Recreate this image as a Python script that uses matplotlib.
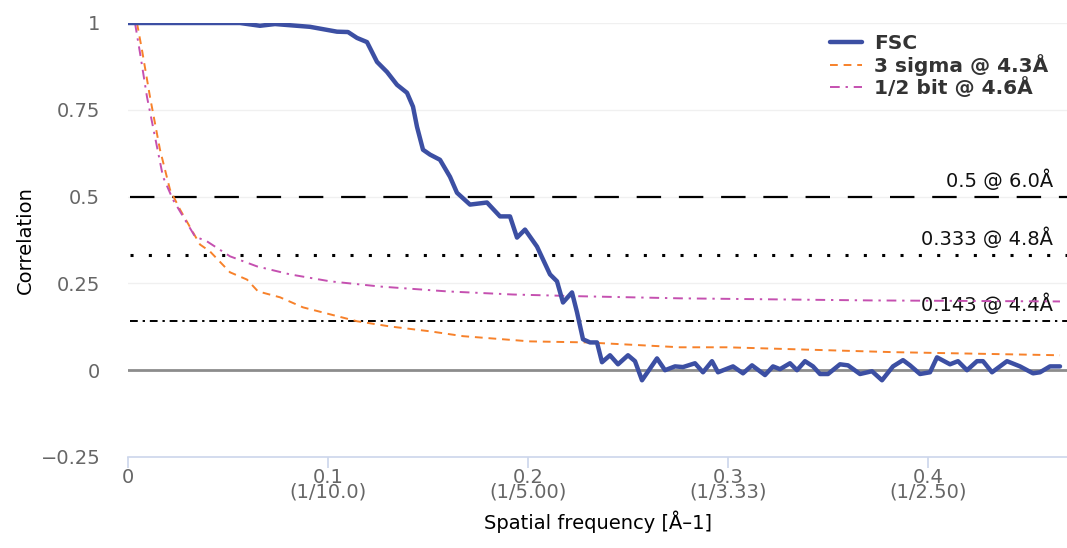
import matplotlib
matplotlib.use('Agg')
import matplotlib.pyplot as plt

# FSC curve (spatial frequency, correlation)
fsc_x = [0.000, 0.056, 0.066, 0.0735, 0.091, 0.1045, 0.110, 0.1145, 0.1195, 0.1245,
         0.1295, 0.1345, 0.1395, 0.1425, 0.1445, 0.1475, 0.151, 0.156, 0.161, 0.1645,
         0.171, 0.1795, 0.186, 0.191, 0.1945, 0.1985, 0.2045, 0.211, 0.2145, 0.2175,
         0.222, 0.2245, 0.2275, 0.231, 0.2345, 0.237, 0.241, 0.245, 0.250, 0.2535,
         0.257, 0.2645, 0.2685, 0.2735, 0.2775, 0.2835, 0.2875, 0.292, 0.295, 0.3025,
         0.3075, 0.312, 0.3185, 0.3225, 0.326, 0.331, 0.3345, 0.3385, 0.3425, 0.346,
         0.350, 0.356, 0.360, 0.366, 0.372, 0.377, 0.3825, 0.3875, 0.391, 0.396,
         0.401, 0.4045, 0.411, 0.415, 0.4195, 0.4245, 0.4275, 0.432, 0.4395, 0.446,
         0.4525, 0.456, 0.461, 0.466]
fsc_y = [1.000, 1.000, 0.992, 0.997, 0.989, 0.975, 0.974, 0.957, 0.945, 0.888,
         0.859, 0.822, 0.799, 0.759, 0.701, 0.635, 0.621, 0.606, 0.557, 0.511,
         0.477, 0.483, 0.443, 0.443, 0.382, 0.405, 0.356, 0.276, 0.256, 0.195,
         0.224, 0.167, 0.089, 0.080, 0.080, 0.023, 0.043, 0.017, 0.043, 0.026,
         -0.029, 0.034, 0.000, 0.011, 0.009, 0.020, -0.006, 0.026, -0.006, 0.011,
         -0.009, 0.014, -0.014, 0.011, 0.003, 0.020, 0.000, 0.026, 0.011, -0.011,
         -0.011, 0.017, 0.014, -0.011, -0.003, -0.029, 0.011, 0.029, 0.014, -0.011,
         -0.006, 0.037, 0.017, 0.026, 0.000, 0.026, 0.026, -0.006, 0.026, 0.011,
         -0.009, -0.006, 0.011, 0.011]

# 3 sigma threshold curve
sigma_x = [0.0045, 0.007, 0.011, 0.016, 0.021, 0.026, 0.0325, 0.036, 0.041, 0.051,
           0.0595, 0.065, 0.076, 0.0875, 0.101, 0.1145, 0.131, 0.151, 0.1675, 0.201,
           0.2295, 0.276, 0.2995, 0.3825, 0.466]
sigma_y = [1.000, 0.922, 0.787, 0.635, 0.520, 0.463, 0.397, 0.362, 0.342, 0.282,
           0.261, 0.227, 0.210, 0.181, 0.161, 0.141, 0.126, 0.112, 0.098, 0.083,
           0.080, 0.066, 0.066, 0.052, 0.043]

# 1/2 bit threshold curve
halfbit_x = [0.0035, 0.006, 0.0095, 0.0135, 0.0175, 0.0225, 0.0275, 0.0335, 0.0395, 0.051,
             0.0645, 0.081, 0.101, 0.126, 0.1595, 0.1925, 0.226, 0.276, 0.371, 0.466]
halfbit_y = [1.000, 0.914, 0.787, 0.672, 0.557, 0.491, 0.443, 0.385, 0.371, 0.328,
             0.299, 0.276, 0.256, 0.241, 0.227, 0.218, 0.213, 0.207, 0.201, 0.198]

# fixed thresholds
thr_values = [0.5, 0.333, 0.143]
thr_labels = ['0.5 @ 6.0Å', '0.333 @ 4.8Å', '0.143 @ 4.4Å']
thr_styles = [(0, (11, 8)), (0, (1, 5)), (0, (4, 2.5, 1.2, 2.5))]
thr_widths = [1.6, 2.2, 1.4]

xticks = [0, 0.1, 0.2, 0.3, 0.4]
xtick_labels = ['0', '0.1\n(1/10.0)', '0.2\n(1/5.00)', '0.3\n(1/3.33)', '0.4\n(1/2.50)']
yticks = [-0.25, 0, 0.25, 0.5, 0.75, 1]
ytick_labels = ['−0.25', '0', '0.25', '0.5', '0.75', '1']

fig = plt.figure(figsize=(10.67, 5.48), dpi=100)
ax = fig.add_axes([128 / 1067, 1 - 457 / 548, 1 - 128 / 1067, (457 - 23) / 548])

ax.set_xlim(0, 0.4695)
ax.set_ylim(-0.25, 1.0)

for v in [0.25, 0.5, 0.75, 1.0]:
    ax.axhline(v, color='#f0f0f0', lw=1, zorder=0)
ax.axhline(0, color='#8c8c8c', lw=2, zorder=1)

for v, lab, ls, lw in zip(thr_values, thr_labels, thr_styles, thr_widths):
    ax.plot([0.001, 0.4695], [v, v], color='black', lw=lw, linestyle=ls, zorder=2)
    ax.text(0.4625, v + 0.017, lab, ha='right', va='bottom', fontsize=14, color='#111111')

ax.plot(sigma_x, sigma_y, color='#f7812a', lw=1.4, linestyle=(0, (4, 3)), label='3 sigma @ 4.3Å', zorder=3)
ax.plot(halfbit_x, halfbit_y, color='#c550b0', lw=1.4, linestyle=(0, (5, 3, 1.2, 3)), label='1/2 bit @ 4.6Å', zorder=3)
ax.plot(fsc_x, fsc_y, color='#3c4fa3', lw=3.2, solid_joinstyle='round', solid_capstyle='round',
        label='FSC', zorder=4)

for s in ['top', 'right', 'left']:
    ax.spines[s].set_visible(False)
ax.spines['bottom'].set_color('#ccd6eb')
ax.spines['bottom'].set_linewidth(1.2)

ax.set_xticks(xticks)
ax.set_xticklabels(xtick_labels, linespacing=0.72, fontsize=14, color='#666666')
ax.set_yticks(yticks)
ax.set_yticklabels(ytick_labels, fontsize=14, color='#666666')
ax.tick_params(axis='x', length=8, color='#ccd6eb', width=1.2, pad=0)
ax.tick_params(axis='y', length=0, pad=20)

ax.set_xlabel('Spatial frequency [Å–1]', fontsize=14, labelpad=6)
ax.set_ylabel('Correlation', fontsize=14, labelpad=4)

handles, labels = ax.get_legend_handles_labels()
order = [2, 0, 1]
leg = ax.legend([handles[i] for i in order], [labels[i] for i in order],
                loc='upper left', bbox_to_anchor=(812 / 1067, 1 - 16 / 548),
                bbox_transform=fig.transFigure, frameon=False, handlelength=1.6,
                handletextpad=0.6, labelspacing=0.05, prop={'weight': 'bold', 'size': 14.5})
for t in leg.get_texts():
    t.set_color('#333333')

fig.savefig('out.png', dpi=100)
